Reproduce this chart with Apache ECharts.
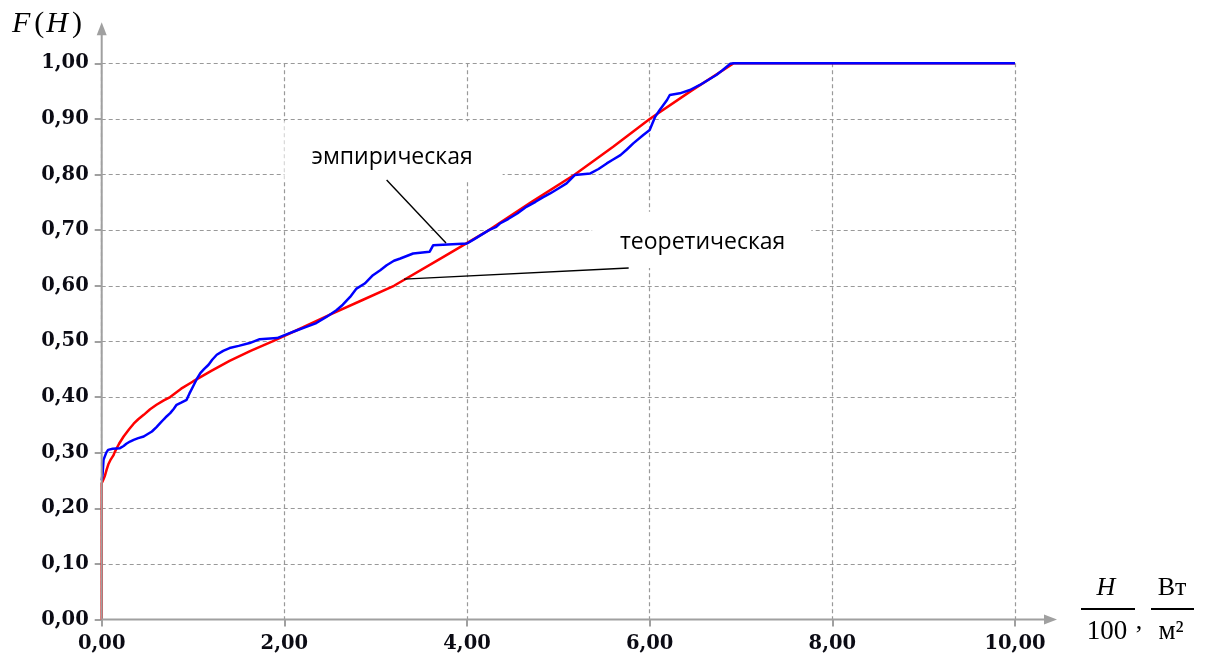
<!DOCTYPE html>
<html><head><meta charset="utf-8">
<script src="https://cdn.jsdelivr.net/npm/echarts@6/dist/echarts.min.js"></script>
<style>html,body{margin:0;padding:0;background:#fff}#chart{width:1212px;height:662px}</style>
</head><body><div id="chart"></div>
<script>
// ---- data ----
const xMin = 0, xMax = 10, xStep = 2;
const yMin = 0, yMax = 1, yStep = 0.1;

const theoreticalX = [0, 0, 0.02, 0.036, 0.055, 0.073, 0.1, 0.128, 0.14, 0.19, 0.24, 0.3, 0.35, 0.4, 0.46, 0.53, 0.6, 0.68, 0.75, 0.87, 1.0, 1.2, 1.4, 1.63, 1.87, 2.2, 2.5, 2.85, 3.2, 3.7, 4.24, 4.7, 5.18, 5.6, 6.0, 6.45, 6.92, 10];
const theoreticalY = [0, 0.245, 0.252, 0.259, 0.27, 0.279, 0.288, 0.295, 0.3, 0.316, 0.329, 0.342, 0.352, 0.36, 0.368, 0.378, 0.386, 0.394, 0.4, 0.415, 0.428, 0.447, 0.465, 0.483, 0.5, 0.525, 0.548, 0.574, 0.6, 0.648, 0.7, 0.75, 0.8, 0.85, 0.9, 0.95, 1.0, 1.0];

const empiricalX = [0, 0.01, 0.02, 0.05, 0.07, 0.12, 0.2, 0.24, 0.27, 0.31, 0.35, 0.40, 0.46, 0.50, 0.55, 0.60, 0.64, 0.68, 0.71, 0.75, 0.79, 0.82, 0.87, 0.93, 0.96, 1.0, 1.04, 1.08, 1.12, 1.17, 1.21, 1.26, 1.33, 1.40, 1.5, 1.62, 1.73, 1.92, 2.03, 2.14, 2.24, 2.35, 2.46, 2.57, 2.64, 2.72, 2.79, 2.88, 2.97, 3.05, 3.12, 3.2, 3.27, 3.41, 3.59, 3.63, 4.0, 4.08, 4.16, 4.24, 4.32, 4.36, 4.45, 4.55, 4.65, 4.75, 4.83, 4.91, 5.0, 5.09, 5.18, 5.35, 5.44, 5.53, 5.6, 5.68, 5.75, 5.82, 5.93, 6.0, 6.06, 6.11, 6.19, 6.22, 6.33, 6.44, 6.55, 6.64, 6.73, 6.8, 6.88, 6.92, 10];
const empiricalY = [0.25, 0.262, 0.287, 0.300, 0.305, 0.307, 0.308, 0.312, 0.316, 0.320, 0.323, 0.326, 0.329, 0.333, 0.338, 0.346, 0.353, 0.36, 0.365, 0.371, 0.379, 0.386, 0.39, 0.395, 0.406, 0.419, 0.432, 0.443, 0.45, 0.458, 0.467, 0.476, 0.483, 0.488, 0.492, 0.497, 0.504, 0.506, 0.513, 0.520, 0.526, 0.533, 0.544, 0.556, 0.566, 0.580, 0.595, 0.604, 0.619, 0.628, 0.637, 0.645, 0.649, 0.658, 0.661, 0.673, 0.676, 0.684, 0.692, 0.700, 0.706, 0.712, 0.72, 0.73, 0.742, 0.751, 0.759, 0.766, 0.775, 0.784, 0.799, 0.802, 0.81, 0.820, 0.827, 0.835, 0.845, 0.856, 0.871, 0.880, 0.904, 0.916, 0.934, 0.943, 0.946, 0.952, 0.961, 0.97, 0.979, 0.988, 0.999, 1.0, 1.0];

const annotationTexts = ['эмпирическая', 'теоретическая'];
const annotationTextAt = [[3.18, 0.831], [6.58, 0.677]];
const annotationBoxes = [[[2.0, 0.896], [4.39, 0.79]], [[5.37, 0.733], [7.77, 0.632]]];
const annotationLeaders = [[[3.12, 0.79], [3.77, 0.677]], [[3.31, 0.612], [5.77, 0.632]]];

// ---- chart ----
const fmt = v => v.toFixed(2).replace('.', ',');
const zip = (xs, ys) => xs.map((x, i) => [x, ys[i]]);
const AX = '#a0a0a0';
const GRID = '#999999';
const labelStyle = { fontFamily: 'DejaVu Serif', fontWeight: 'bold', fontSize: 19.5, color: '#0b0b14' };

const chart = echarts.init(document.getElementById('chart'), null, { renderer: 'canvas' });
chart.setOption({
  animation: false,
  backgroundColor: '#fff',
  grid: { left: 101.7, right: 197, top: 63.3, bottom: 42.5 },
  xAxis: {
    type: 'value', min: xMin, max: xMax, interval: xStep,
    axisLine: { show: false },
    axisTick: { show: true, length: 7, lineStyle: { color: AX, width: 2 } },
    axisLabel: Object.assign({ formatter: fmt, margin: 14 }, labelStyle),
    splitLine: { show: true, lineStyle: { type: [4, 3], color: GRID, width: 1.2 } }
  },
  yAxis: {
    type: 'value', min: yMin, max: yMax, interval: yStep,
    axisLine: { show: false },
    axisTick: { show: true, length: 7, lineStyle: { color: AX, width: 2 } },
    axisLabel: Object.assign({ formatter: fmt, margin: 13 }, labelStyle),
    splitLine: { show: true, lineStyle: { type: [4, 3], color: GRID, width: 1.2 } }
  },
  series: [
    { name: 'эмпирическая', type: 'line', showSymbol: false, data: zip(empiricalX, empiricalY),
      lineStyle: { color: '#0000ff', width: 2.5 }, z: 4 },
    { name: 'теоретическая', type: 'line', showSymbol: false, data: zip(theoreticalX, theoreticalY),
      lineStyle: { color: '#ff0000', width: 2.5 }, z: 3 }
  ]
});

const px = p => chart.convertToPixel({ gridIndex: 0 }, p);
const o = px([0, 0]);
const xe = px([xMax, 0]);
const ye = px([0, yMax]);
const g = [];

// axes with arrows
g.push({ type: 'line', z: 5, shape: { x1: o[0], y1: o[1], x2: xe[0] + 32, y2: o[1] }, style: { stroke: AX, lineWidth: 2 } });
g.push({ type: 'polygon', z: 5, shape: { points: [[xe[0] + 42, o[1]], [xe[0] + 29, o[1] - 5], [xe[0] + 29, o[1] + 5]] }, style: { fill: AX } });
g.push({ type: 'line', z: 5, shape: { x1: o[0], y1: o[1], x2: o[0], y2: ye[1] - 30 }, style: { stroke: AX, lineWidth: 2 } });
g.push({ type: 'polygon', z: 5, shape: { points: [[o[0], ye[1] - 41], [o[0] - 5, ye[1] - 28], [o[0] + 5, ye[1] - 28]] }, style: { fill: AX } });

// annotations
annotationTexts.forEach((t, i) => {
  const a = px(annotationBoxes[i][0]), b = px(annotationBoxes[i][1]);
  g.push({ type: 'rect', z: 1, shape: { x: a[0], y: a[1], width: b[0] - a[0], height: b[1] - a[1] }, style: { fill: '#fff' } });
  const p = px(annotationTextAt[i]);
  g.push({ type: 'text', z: 6, x: p[0], y: p[1], style: { text: t, fontFamily: 'Open Sans', fontSize: 23, fill: '#000', align: 'center', verticalAlign: 'middle' } });
  const l1 = px(annotationLeaders[i][0]), l2 = px(annotationLeaders[i][1]);
  g.push({ type: 'line', z: 6, shape: { x1: l1[0], y1: l1[1], x2: l2[0], y2: l2[1] }, style: { stroke: '#000', lineWidth: 1.4 } });
});

// y-axis title F(H)
const serif = 'Liberation Serif';
g.push({ type: 'text', z: 6, x: 11, y: 24, style: { text: '{i|F}{n|(}{i|H}{n|)}', verticalAlign: 'middle',
  rich: { i: { fontFamily: serif, fontStyle: 'italic', fontSize: 30, fill: '#000', padding: [0, 3, 0, 1] },
          n: { fontFamily: serif, fontSize: 30, fill: '#000', padding: [0, 1, 0, 1] } } } });

// x-axis unit: H/100 , Вт/м²
g.push({ type: 'text', z: 6, x: 1106, y: 588, style: { text: 'H', fontFamily: serif, fontStyle: 'italic', fontSize: 26, fill: '#000', align: 'center', verticalAlign: 'middle' } });
g.push({ type: 'line', z: 6, shape: { x1: 1081, y1: 609, x2: 1135, y2: 609 }, style: { stroke: '#000', lineWidth: 2.2 } });
g.push({ type: 'text', z: 6, x: 1107, y: 632, style: { text: '100', fontFamily: serif, fontSize: 27, fill: '#000', align: 'center', verticalAlign: 'middle' } });
g.push({ type: 'text', z: 6, x: 1139, y: 622, style: { text: ',', fontFamily: serif, fontSize: 26, fill: '#000', align: 'center', verticalAlign: 'middle' } });
g.push({ type: 'text', z: 6, x: 1172, y: 588, style: { text: 'Вт', fontFamily: serif, fontSize: 26, fill: '#000', align: 'center', verticalAlign: 'middle' } });
g.push({ type: 'line', z: 6, shape: { x1: 1151, y1: 609, x2: 1194, y2: 609 }, style: { stroke: '#000', lineWidth: 2.2 } });
g.push({ type: 'text', z: 6, x: 1171, y: 632, style: { text: 'м²', fontFamily: serif, fontSize: 27, fill: '#000', align: 'center', verticalAlign: 'middle' } });

chart.setOption({ graphic: g });
</script></body></html>
